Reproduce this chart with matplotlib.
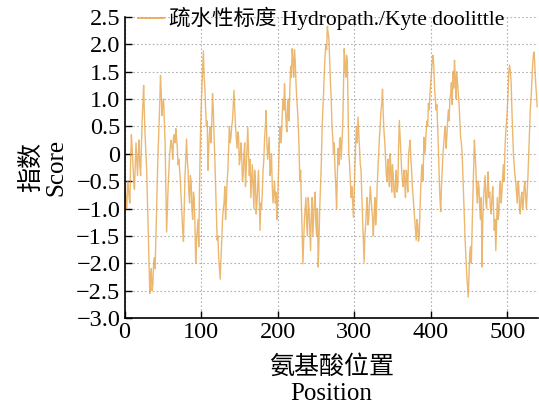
import matplotlib
matplotlib.use("Agg")
import matplotlib.pyplot as plt
from matplotlib.ticker import FuncFormatter

plt.rcParams['font.family'] = ['Liberation Serif', 'Noto Sans CJK SC', 'DejaVu Sans']
plt.rcParams['axes.unicode_minus'] = True

# scores read at odd positions 1,3,...,539
scores_odd = [
    -0.7, -1.0, -0.6, -0.9, 0.35, -0.2, -0.65, 0.2, -0.4, 0.25,
    -0.4, 0.6, 1.25, 0.3, -0.3, -1.4, -2.55, -2.1, -2.4, -1.9,
    -1.5, -0.4, 0.5, 1.43, 0.7, 1.0, 0.2, -1.43, -0.6, 0.0,
    0.25, -0.1, 0.35, 0.46, 0.1, -0.1, -0.5, -1.1, -1.6, -0.4,
    0.27, -0.3, -0.9, -0.5, -1.2, -0.8, -2.0, -1.4, -1.7, 0.2,
    1.16, 1.88, 1.2, 0.5, -0.3, 0.4, 0.2, 1.1, 0.3, -0.6,
    -1.58, -1.9, -2.29, -1.6, -1.0, -0.6, -0.9, -0.3, 0.5, 0.3,
    0.6, 1.16, 0.5, 0.1, 0.3, -0.1, 0.0, -0.4, 0.2, -0.3,
    0.49, -0.4, -0.8, -0.2, -1.0, -0.5, -0.9, -0.3, -1.4, -1.0,
    -0.3, 0.3, 0.79, -0.1, 0.3, -0.3, -0.6, -0.7, -0.9, -1.2,
    -0.4, 0.5, 0.3, 1.0, 1.28, 0.6, 0.9, 0.6, 1.6, 1.92,
    1.4, 1.7, 1.0, 0.5, -0.5, -0.9, -2.01, -1.2, -0.8, -1.5,
    -1.0, -1.77, -0.8, -1.2, -0.7, -1.5, -2.07, -1.0, -0.2, 0.8,
    1.5, 2.0, 2.33, 2.1, 1.3, 0.5, 0.0, -0.3, -1.0, 0.1,
    0.24, -0.1, 0.5, 1.92, 1.4, 1.7, 0.0, -0.5, -0.6, -1.16,
    -0.3, 0.5, 0.67, 0.1, -0.3, -1.2, -1.98, -1.3, -0.8, -1.2,
    -0.6, -1.0, -1.5, -0.8, -1.1, -0.3, 0.3, 0.8, 1.18, 0.4,
    -0.1, -0.5, -0.3, 0.0, -0.7, -0.4, -0.8, -0.3, -0.6, 0.61,
    0.0, -0.5, -0.3, -0.8, -0.4, 0.0, 0.25, -0.3, -0.8, -1.2,
    -1.58, -1.3, -1.5, -0.6, -0.2, 0.3, 0.1, 0.6, 0.92, 1.1,
    1.5, 1.8, 1.2, 0.8, 0.5, -0.4, -1.06, -0.3, 0.2, 0.5,
    0.3, 0.8, 1.0, 1.3, 1.5, 1.71, 1.0, 1.3, 0.9, 0.3,
    0.0, -0.8, -1.6, -2.2, -2.62, -1.8, -2.0, -0.8, 0.25, -0.3,
    -0.9, -0.6, -1.2, -2.07, -0.8, -0.4, -1.0, -0.33, -0.7, -1.1,
    -0.6, -1.4, -1.77, -0.8, -1.1, -0.5, -0.7, -0.2, 0.1, 0.6,
    1.1, 1.62, 1.3, 0.4, -0.2, -0.5, -0.9, -0.6, -1.1, -0.7,
    -0.9, -0.5, -1.0, -0.4, 0.4, 1.0, 1.6, 1.86, 1.3, 0.86,
]

# scores read at even positions 2,4,...,538
scores_even = [
    -0.85, -0.5, -0.8, -0.1, 0.1, -0.5, -0.2, -0.1, 0.0, -0.2,
    0.1, 0.9, 0.7, 0.0, -0.9, -2.0, -2.3, -2.5, -2.0, -2.1,
    -1.0, 0.1, 0.9, 1.1, 0.9, 0.6, -0.6, -1.0, -0.3, 0.15,
    0.1, 0.3, 0.2, 0.3, -0.2, -0.3, -0.8, -1.4, -1.0, -0.1,
    -0.1, -0.7, -0.4, -1.0, -0.7, -1.3, -1.6, -1.2, -0.6, 0.8,
    1.5, 1.4, 0.8, 0.6, 0.1, 0.5, 0.6, 0.8, -0.1, -1.1,
    -1.5, -2.1, -1.9, -1.2, -0.9, -1.2, -0.5, 0.1, 0.2, 0.5,
    0.9, 0.8, 0.3, 0.4, -0.2, 0.2, -0.5, 0.0, -0.6, 0.1,
    0.0, -0.1, -0.5, -0.6, -0.3, -1.1, -0.6, -0.8, -0.9, -0.7,
    -0.1, 0.5, 0.2, 0.1, -0.4, 0.0, -0.9, -0.5, -0.7, -0.9,
    0.1, 0.2, 0.7, 0.8, 0.9, 0.4, 1.0, 1.2, 1.4, 1.7,
    1.9, 1.3, 0.8, 0.1, -0.3, -1.4, -1.6, -1.0, -1.3, -0.8,
    -1.4, -1.1, -1.5, -0.9, -1.3, -1.0, -1.6, -0.6, 0.4, 1.1,
    1.8, 1.9, 2.2, 1.7, 1.0, 0.3, 0.2, -0.6, -0.4, -0.2,
    0.3, 0.2, 1.2, 1.6, 1.8, 0.8, -0.2, -0.8, -0.9, -0.7,
    0.2, 0.2, 0.4, -0.2, -0.8, -1.6, -1.5, -1.0, -1.3, -0.9,
    -0.8, -1.2, -1.1, -1.3, -0.6, 0.0, 0.5, 0.9, 0.7, 0.2,
    -0.4, -0.1, -0.6, -0.3, -0.2, -0.7, -0.5, -0.7, 0.1, 0.3,
    -0.3, -0.6, -0.5, -0.3, -0.7, 0.1, -0.1, -0.6, -1.0, -1.4,
    -1.2, -1.6, -1.0, -0.3, -0.5, 0.0, 0.4, 0.5, 0.8, 1.3,
    1.7, 1.6, 1.0, 0.9, 0.1, -0.8, -0.6, 0.0, 0.4, 0.1,
    0.6, 0.6, 1.1, 0.9, 1.2, 1.4, 1.5, 1.1, 0.6, 0.2,
    -0.4, -1.2, -1.9, -2.4, -2.2, -1.7, -1.4, -0.3, 0.0, -0.7,
    -0.5, -1.0, -0.8, -1.2, -0.6, -0.9, -0.6, -0.8, -1.0, -0.8,
    -1.0, -1.2, -1.3, -1.2, -0.6, -0.9, -0.4, -0.5, 0.4, 0.8,
    1.5, 1.5, 0.8, 0.0, -0.4, -0.7, -0.5, -1.0, -0.8, -1.0,
    -0.6, -0.8, -0.7, 0.0, 0.8, 1.3, 1.8, 1.6, 1.1,
]

positions = list(range(1, 540))
scores = []
for i, v in enumerate(scores_odd):
    scores.append(v)
    if i < len(scores_even):
        scores.append(scores_even[i])

x_ticks = [0, 100, 200, 300, 400, 500]
y_ticks = [-3.0, -2.5, -2.0, -1.5, -1.0, -0.5, 0.0, 0.5, 1.0, 1.5, 2.0, 2.5]
legend_label = "疏水性标度 Hydropath./Kyte doolittle"
x_label = "氨基酸位置\nPosition"
y_label = "指数\nScore"

fig = plt.figure(figsize=(5.39, 4.04), dpi=100)
ax = fig.add_axes([0.231, 0.213, 0.767, 0.745])

ax.plot(positions, scores, color='#E6A040', alpha=0.75, lw=1.0, label=legend_label)

ax.set_xlim(0, 540)
ax.set_ylim(-3.0, 2.5)
ax.set_xticks(x_ticks)
ax.set_yticks(y_ticks)

def yfmt(v, pos):
    if abs(v) < 1e-9:
        return "0"
    return f"{v:.1f}".replace("-", "\u2212")
ax.yaxis.set_major_formatter(FuncFormatter(yfmt))

ax.grid(True, linestyle=(0, (1.5, 2.0)), color='#b0b0b0', lw=0.8)
ax.set_axisbelow(True)
for s in ['top', 'right']:
    ax.spines[s].set_visible(False)
for s in ['left', 'bottom']:
    ax.spines[s].set_linewidth(1.2)
ax.tick_params(direction='in', length=5, width=1.0, labelsize=17.5, pad=3)

ax.set_xlabel(x_label, fontsize=18, linespacing=1.2, labelpad=9)
ax.set_ylabel(y_label, fontsize=18, linespacing=1.15, labelpad=6)

leg = ax.legend(loc='upper left', frameon=False, fontsize=15.5, handlelength=1.2,
                borderaxespad=0.0, borderpad=0.1, handletextpad=0.25,
                bbox_to_anchor=(0.027, 1.04))
for h in leg.get_lines():
    h.set_linewidth(1.3)
    h.set_alpha(0.85)

fig.savefig("out.png", dpi=100)
